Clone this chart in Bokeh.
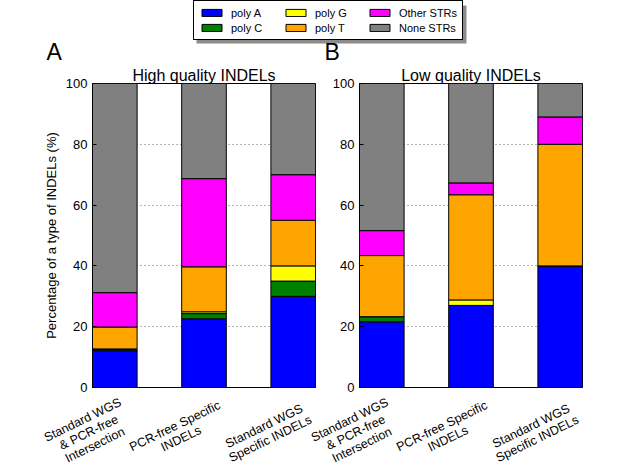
import math
from bokeh.plotting import figure
from bokeh.models import ColumnDataSource, Range1d, FixedTicker, Label, Legend, LegendItem, BoxAnnotation
from bokeh.core.properties import value
from bokeh.layouts import column, row
from bokeh.embed import file_html
from bokeh.resources import INLINE

# ---- data ----
positions = [0, 2, 4]
x_labels = ["Standard WGS\n& PCR-free\nIntersection",
            "PCR-free Specific\nINDELs",
            "Standard WGS\nSpecific INDELs"]
series_keys = ["poly_a", "poly_c", "poly_g", "poly_t", "other_strs", "none_strs"]
series_names = ["poly A", "poly C", "poly G", "poly T", "Other STRs", "None STRs"]
series_colors = ["#0000ff", "#008000", "#ffff00", "#ffa500", "#ff00ff", "#808080"]
y_ticks = [0, 20, 40, 60, 80, 100]

high_poly_a = [12.1, 22.6, 30.0]
high_poly_c = [0.4, 1.7, 5.0]
high_poly_g = [0.2, 0.6, 5.0]
high_poly_t = [7.2, 14.8, 15.0]
high_other_strs = [11.3, 29.0, 15.0]
high_none_strs = [68.8, 31.3, 30.0]

low_poly_a = [21.6, 27.0, 40.0]
low_poly_c = [1.7, 0.0, 0.0]
low_poly_g = [0.0, 1.8, 0.0]
low_poly_t = [20.1, 34.6, 40.0]
low_other_strs = [8.2, 3.9, 9.0]
low_none_strs = [48.4, 32.7, 11.0]

FONT = "Liberation Sans"

# ---- layout constants (pixels) ----
PAGE_W, PAGE_H = 636, 469
HEADER_H = 64
FRAME_W, FRAME_H = 223, 304
A_BORDER_L, A_BORDER_R = 92, 3
B_BORDER_L, B_BORDER_R = 41, 54
BORDER_T, BORDER_B = 19, 8
LABELS_H = PAGE_H - HEADER_H - BORDER_T - FRAME_H - BORDER_B
X_MIN, X_MAX = -0.5, 4.5


def make_panel(title, values, show_ylabel, b_left, b_right):
    data = dict(x=positions)
    for k, v in zip(series_keys, values):
        data[k] = v
    src = ColumnDataSource(data)
    p = figure(frame_width=FRAME_W, frame_height=FRAME_H,
               x_range=Range1d(X_MIN, X_MAX), y_range=Range1d(0, 100),
               output_backend="svg", toolbar_location=None, tools="",
               min_border_left=b_left, min_border_right=b_right,
               min_border_top=BORDER_T, min_border_bottom=BORDER_B)
    p.vbar_stack(series_keys, x="x", width=1, source=src,
                 fill_color=series_colors, line_color="black", line_width=1)
    p.xaxis.visible = False
    p.xgrid.visible = False
    p.ygrid.grid_line_color = "black"
    p.ygrid.grid_line_alpha = 0.6
    p.ygrid.grid_line_dash = "1 3"
    p.yaxis.ticker = FixedTicker(ticks=y_ticks)
    p.yaxis.minor_tick_line_color = None
    p.yaxis.major_tick_in = 4
    p.yaxis.major_tick_out = 0
    p.yaxis.major_tick_line_color = "black"
    p.yaxis.axis_line_color = "black"
    p.yaxis.major_label_text_font = FONT
    p.yaxis.major_label_text_font_size = "13px"
    p.yaxis.major_label_text_color = "black"
    p.yaxis.major_label_standoff = 5
    if show_ylabel:
        p.yaxis.axis_label = "Percentage of a type of INDELs (%)"
        p.yaxis.axis_label_text_font = FONT
        p.yaxis.axis_label_text_font_size = "13px"
        p.yaxis.axis_label_text_font_style = "normal"
        p.yaxis.axis_label_text_color = "black"
        p.yaxis.axis_label_standoff = 4
    p.outline_line_color = "black"
    p.outline_line_alpha = 1.0
    p.outline_line_width = 1
    p.title.text = title
    p.title.align = "center"
    p.title.text_font = FONT
    p.title.text_font_size = "16px"
    p.title.text_font_style = "normal"
    p.title.text_color = "black"
    p.title.standoff = 0
    return p


pA = make_panel("High quality INDELs",
                [high_poly_a, high_poly_c, high_poly_g, high_poly_t, high_other_strs, high_none_strs],
                True, A_BORDER_L, A_BORDER_R)
pB = make_panel("Low quality INDELs",
                [low_poly_a, low_poly_c, low_poly_g, low_poly_t, low_other_strs, low_none_strs],
                False, B_BORDER_L, B_BORDER_R)

# ---- header: legend (with drop shadow) and panel letters ----
hf = figure(width=PAGE_W, height=HEADER_H, x_range=Range1d(0, 1), y_range=Range1d(0, 1),
            output_backend="svg", toolbar_location=None, tools="", min_border=0,
            x_axis_location=None, y_axis_location=None)
hf.xgrid.visible = False
hf.ygrid.visible = False
hf.outline_line_color = None
hf.add_layout(BoxAnnotation(left=196, right=466, bottom=21, top=59,
                            left_units="screen", right_units="screen",
                            bottom_units="screen", top_units="screen",
                            fill_color="#8c8c8c", fill_alpha=1.0, line_color=None))
items = []
for name, c in zip(series_names, series_colors):
    # swatch renderers; their tiny bar sits hidden beneath the opaque legend box
    r = hf.vbar(x=[0.5], bottom=[0.55], top=[0.6], width=0.005, fill_color=c, line_color="black")
    items.append(LegendItem(label=name, renderers=[r]))
leg = Legend(items=items, nrows=2, location=(193, 24),
             glyph_width=25, glyph_height=9, label_standoff=7, label_width=50, label_height=13,
             spacing=2, padding=5, margin=0,
             label_text_font=FONT, label_text_font_size="11px", label_text_color="black",
             border_line_color="black", border_line_width=1, border_line_alpha=1.0,
             background_fill_color="white", background_fill_alpha=1.0)
hf.add_layout(leg, "center")
for letter, lx in (("A", 46), ("B", 324)):
    hf.add_layout(Label(x=lx, y=0, x_units="screen", y_units="screen", text=letter,
                        text_font=FONT, text_font_size="23px", text_color="black",
                        text_baseline="bottom"))

# ---- category labels under both panels (same x scale as the panels) ----
slot_px = FRAME_W / (X_MAX - X_MIN)
lab_x_start = X_MIN - A_BORDER_L / slot_px
lab_x_end = lab_x_start + PAGE_W / slot_px
b_shift = (FRAME_W + A_BORDER_R + B_BORDER_L) / slot_px
lf = figure(width=PAGE_W, height=LABELS_H, x_range=Range1d(lab_x_start, lab_x_end),
            y_range=Range1d(-LABELS_H, 0),
            output_backend="svg", toolbar_location=None, tools="", min_border=0,
            x_axis_location=None, y_axis_location=None)
lf.xgrid.visible = False
lf.ygrid.visible = False
lf.outline_line_color = None
lab_src = ColumnDataSource(dict(
    x=positions + [pos + b_shift for pos in positions],
    y=[-LABELS_H / 2] * 6,
    text=x_labels + x_labels,
))
lf.text(x="x", y="y", text="text", source=lab_src, angle=math.radians(26), x_offset=-26,
        text_align="center", text_baseline="middle", text_line_height=1.0,
        text_font=value(FONT), text_font_size="12.5px", text_color="black")

layout = column(hf, row(pA, pB), lf)
open("out.html", "w").write(file_html(layout, INLINE))
